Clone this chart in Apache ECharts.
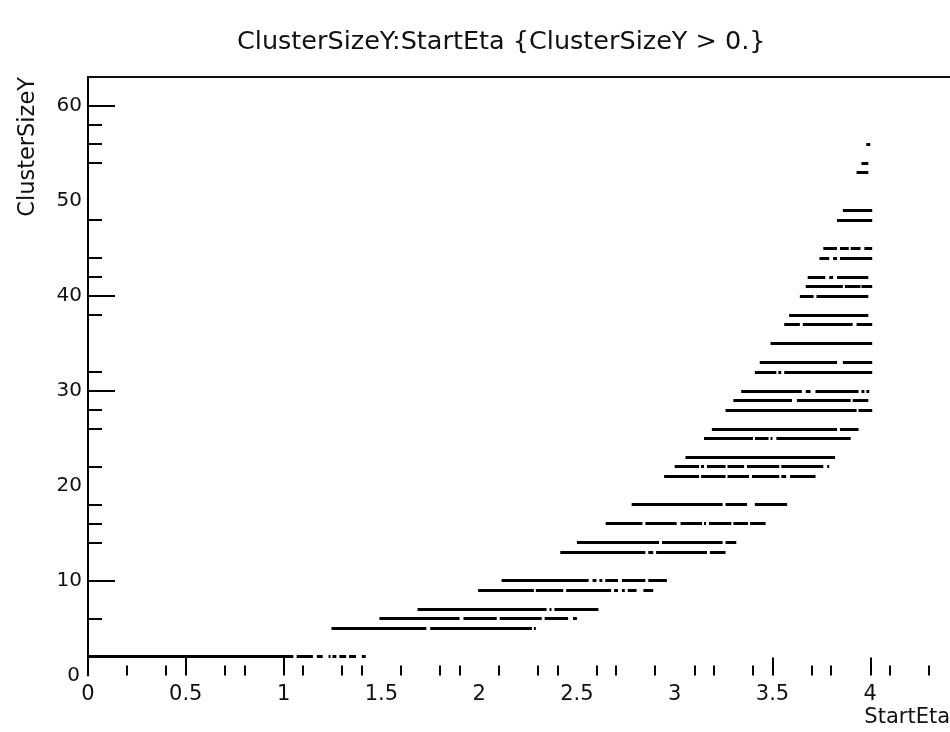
<!DOCTYPE html>
<html>
<head>
<meta charset="utf-8">
<script src="https://cdn.jsdelivr.net/npm/echarts@6/dist/echarts.min.js"></script>
<style>
  html, body { margin: 0; padding: 0; background: #fff; }
  #main { width: 950px; height: 732px; }
</style>
</head>
<body>
<div id="main"></div>
<script>
// ClusterSizeY rows that show up in the plot
const clusterSizeY = [2, 5, 6, 7, 9, 10, 13, 14, 16, 18, 21, 22, 23, 25, 26, 28, 29, 30,
  32, 33, 35, 37, 38, 40, 41, 42, 44, 45, 48, 49, 53, 54, 56];

// StartEta stretches filled in each row (same order as clusterSizeY)
const etaSegments = [
  [[0, 1.05], [1.067, 1.15], [1.17, 1.2], [1.23, 1.24], [1.25, 1.27], [1.285, 1.32], [1.335, 1.37], [1.4, 1.42]],
  [[1.245, 1.73], [1.75, 2.27], [2.28, 2.29]],
  [[1.49, 1.9], [1.92, 2.09], [2.105, 2.32], [2.335, 2.455], [2.48, 2.5]],
  [[1.685, 2.345], [2.36, 2.37], [2.385, 2.61]],
  [[1.995, 2.28], [2.29, 2.43], [2.445, 2.675], [2.69, 2.71], [2.73, 2.745], [2.76, 2.805], [2.84, 2.89]],
  [[2.115, 2.56], [2.58, 2.6], [2.615, 2.63], [2.645, 2.71], [2.73, 2.85], [2.865, 2.96]],
  [[2.415, 2.85], [2.865, 2.89], [2.905, 3.165], [3.18, 3.26]],
  [[2.5, 2.92], [2.935, 3.245], [3.26, 3.315]],
  [[2.647, 2.835], [2.85, 3.01], [3.03, 3.14], [3.15, 3.16], [3.175, 3.29], [3.3, 3.375], [3.385, 3.465]],
  [[2.78, 3.245], [3.26, 3.37], [3.41, 3.575]],
  [[2.946, 3.125], [3.135, 3.26], [3.27, 3.38], [3.395, 3.535], [3.545, 3.57], [3.59, 3.72]],
  [[3.0, 3.125], [3.135, 3.15], [3.165, 3.26], [3.27, 3.355], [3.37, 3.535], [3.545, 3.76], [3.78, 3.79]],
  [[3.055, 3.82]],
  [[3.15, 3.4], [3.41, 3.48], [3.49, 3.5], [3.52, 3.9]],
  [[3.19, 3.83], [3.845, 3.94]],
  [[3.26, 3.93], [3.94, 4.01]],
  [[3.3, 3.6], [3.625, 3.9], [3.91, 3.99]],
  [[3.34, 3.65], [3.67, 3.695], [3.72, 3.94], [3.955, 3.97], [3.98, 3.995]],
  [[3.41, 3.52], [3.53, 3.545], [3.56, 4.01]],
  [[3.435, 3.83], [3.86, 4.01]],
  [[3.49, 4.01]],
  [[3.56, 3.64], [3.655, 3.91], [3.93, 4.01]],
  [[3.585, 3.99]],
  [[3.64, 3.71], [3.725, 3.99]],
  [[3.67, 3.86], [3.87, 3.95], [3.955, 4.01]],
  [[3.68, 3.77], [3.79, 3.81], [3.83, 3.99]],
  [[3.74, 3.79], [3.81, 3.83], [3.845, 4.01]],
  [[3.76, 3.83], [3.845, 3.89], [3.9, 3.95], [3.97, 4.01]],
  [[3.83, 4.01]],
  [[3.86, 4.01]],
  [[3.93, 3.99]],
  [[3.955, 3.99]],
  [[3.98, 4.0]]
];

// ticks as they survive in the picture
const xMajorTicks = [0.5, 1, 3.5, 4];
const xMinorTicks = [0.2, 0.4, 0.7, 0.8, 1.1, 1.3, 1.4, 1.6, 1.8, 1.9, 2.1, 2.3, 2.4, 2.6, 2.7, 2.9,
  3.1, 3.2, 3.4, 3.7, 3.8, 4.1, 4.3];
const xLabels = [0, 0.5, 1, 1.5, 2, 2.5, 3, 3.5, 4];
const yMajorTicks = [10, 30, 40, 60];
const yMinorTicks = [6, 14, 16, 18, 22, 26, 28, 32, 38, 42, 44, 48, 54, 56, 58];
const yLabels = [10, 20, 30, 40, 50, 60];
const yZeroLabel = [0];

const FONT = 'DejaVu Sans';

let segData = [];
clusterSizeY.forEach((y, i) => {
  etaSegments[i].forEach(s => {
    segData.push({coords: [[s[0], y], [s[1], y]]});
  });
});

const xRange = {min: 0, max: 4.51};
const yRange = {min: 0, max: 63.05};
const labelStyle = {color: '#111', fontFamily: FONT, fontSize: 20};

let option = {
  animation: false,
  backgroundColor: '#fff',
  title: {
    text: 'ClusterSizeY:StartEta {ClusterSizeY > 0.}',
    left: 232,
    top: 24,
    textStyle: {fontFamily: FONT, fontSize: 25.5, fontWeight: 'normal', color: '#111'}
  },
  grid: {left: 88, top: 77, right: -20, bottom: 56.4, containLabel: false, outerBoundsMode: 'none'},
  xAxis: [
    {
      type: 'value', position: 'bottom', ...xRange,
      axisLine: {show: false},
      splitLine: {show: false},
      axisTick: {show: true, inside: true, length: 18, customValues: xMajorTicks, lineStyle: {color: '#000', width: 2}},
      axisLabel: {customValues: xLabels, margin: 8, color: '#111', fontFamily: FONT, fontSize: 21}
    },
    {
      type: 'value', position: 'bottom', ...xRange,
      axisLine: {show: false},
      splitLine: {show: false},
      axisTick: {show: true, inside: true, length: 10, customValues: xMinorTicks, lineStyle: {color: '#000', width: 2}},
      axisLabel: {show: false}
    },
    {
      type: 'value', position: 'top', ...xRange,
      axisLine: {show: true, lineStyle: {color: '#111', width: 2}},
      splitLine: {show: false},
      axisTick: {show: false},
      axisLabel: {show: false}
    }
  ],
  yAxis: [
    {
      type: 'value', position: 'left', ...yRange,
      axisLine: {show: true, lineStyle: {color: '#000', width: 2}},
      splitLine: {show: false},
      axisTick: {show: true, inside: true, length: 27, customValues: yMajorTicks, lineStyle: {color: '#000', width: 2}},
      axisLabel: {customValues: yLabels, margin: 6, padding: [5, 0, 0, 0], ...labelStyle}
    },
    {
      type: 'value', position: 'left', ...yRange,
      axisLine: {show: false},
      splitLine: {show: false},
      axisTick: {show: true, inside: true, length: 14, customValues: yMinorTicks, lineStyle: {color: '#000', width: 2}},
      axisLabel: {customValues: yZeroLabel, margin: 8, padding: [8, 0, 0, 0], showMinLabel: true, ...labelStyle}
    }
  ],
  graphic: [
    {
      type: 'text', x: 950, y: 718,
      style: {text: 'StartEta', align: 'right', verticalAlign: 'middle', font: '21px "DejaVu Sans"', fill: '#111'}
    },
    {
      type: 'text', x: 28, y: 77, rotation: Math.PI / 2,
      style: {text: 'ClusterSizeY', align: 'right', verticalAlign: 'middle', font: '22.5px "DejaVu Sans"', fill: '#111'}
    }
  ],
  series: [
    {
      type: 'lines',
      coordinateSystem: 'cartesian2d',
      xAxisIndex: 0,
      yAxisIndex: 0,
      silent: true,
      lineStyle: {color: '#000', width: 2.8, opacity: 1, cap: 'butt'},
      data: segData
    }
  ]
};

let myChart = echarts.init(document.getElementById('main'));
myChart.setOption(option);
</script>
</body>
</html>
